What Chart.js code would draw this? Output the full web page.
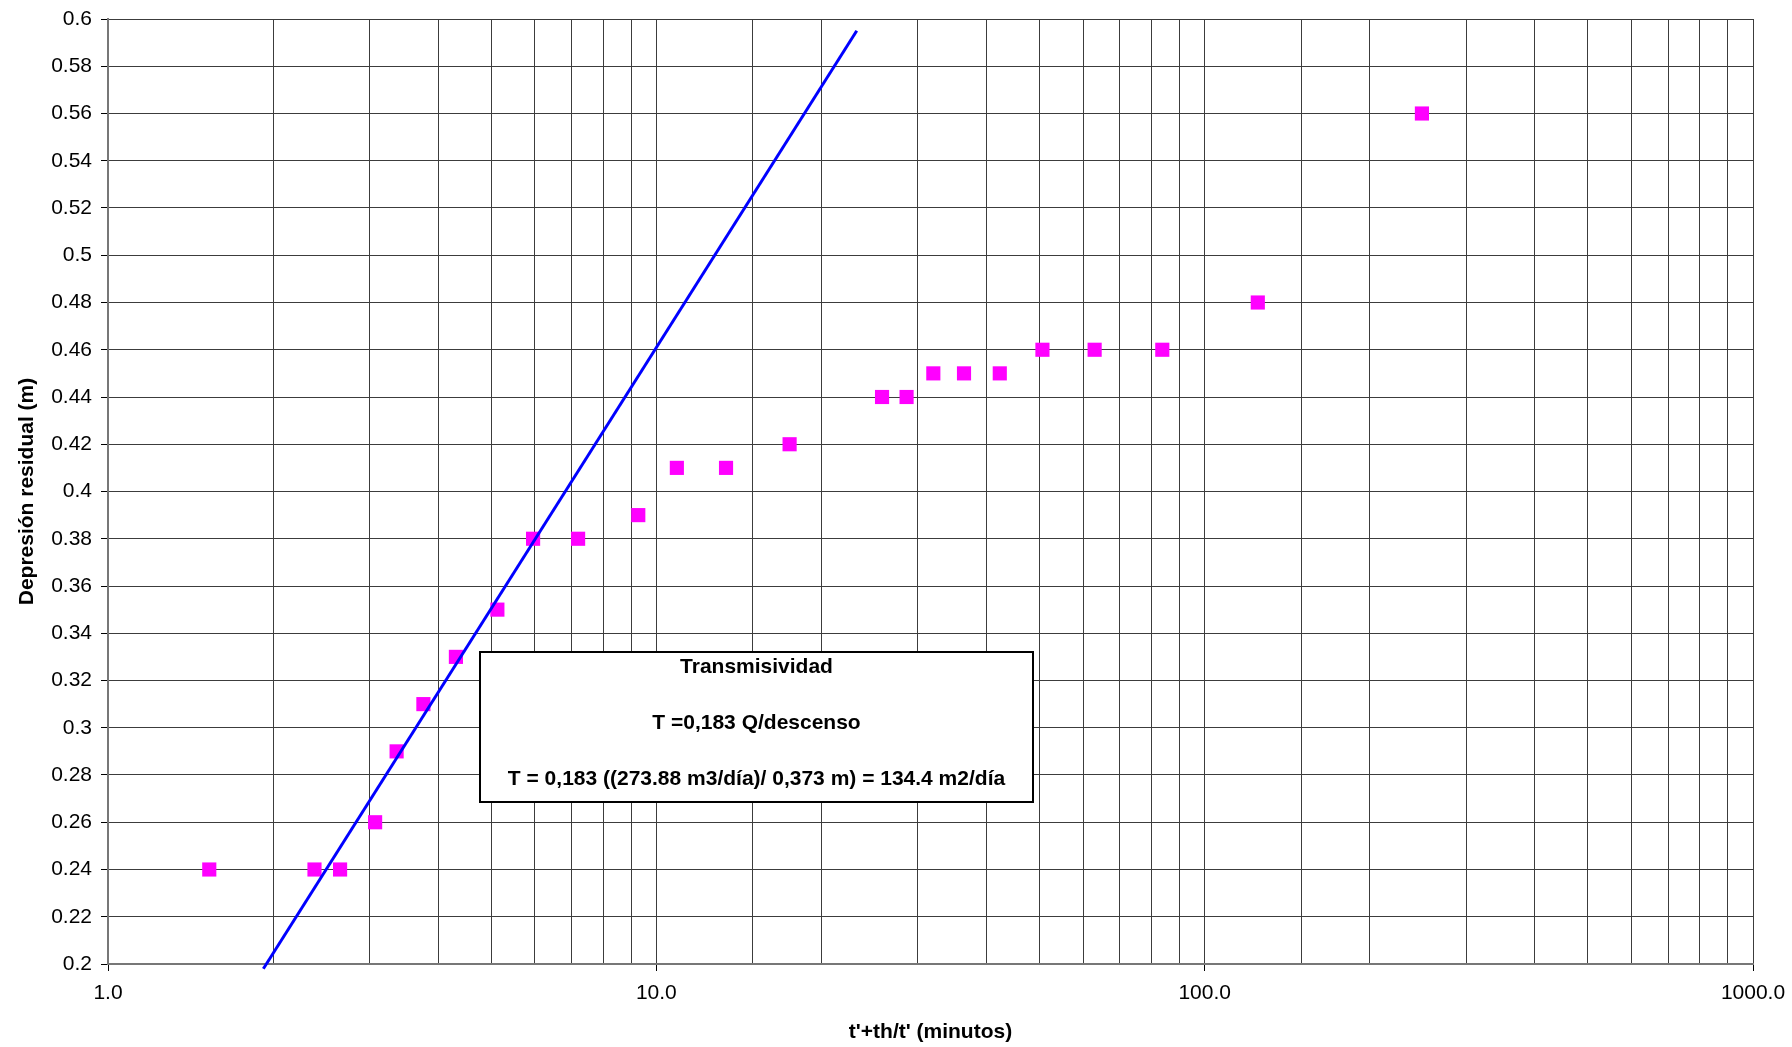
<!DOCTYPE html>
<html>
<head>
<meta charset="utf-8">
<script src="https://cdn.jsdelivr.net/npm/chart.js@4.4.1/dist/chart.umd.min.js"></script>
<style>
  html, body { margin: 0; padding: 0; background: #ffffff; }
  #wrap { width: 1792px; height: 1047px; position: relative; }
</style>
</head>
<body>
<div id="wrap"><canvas id="c" width="1792" height="1047"></canvas></div>
<script>
// ---- data ----
const tValues = [1.53, 2.38, 2.65, 3.07, 3.36, 3.76, 4.31, 5.13, 5.96, 7.2, 9.27, 10.9, 13.4, 17.5, 25.8, 28.6, 32.0, 36.4, 42.3, 50.6, 63.0, 83.7, 125, 249];
const drawdown = [0.24, 0.24, 0.24, 0.26, 0.29, 0.31, 0.33, 0.35, 0.38, 0.38, 0.39, 0.41, 0.41, 0.42, 0.44, 0.44, 0.45, 0.45, 0.45, 0.46, 0.46, 0.46, 0.48, 0.56];
const fitX = [1.92, 23.2];
const fitY = [0.198, 0.595];
const xMajorTicks = [1, 10, 100, 1000];
const yMin = 0.2, yMax = 0.6, yStep = 0.02;
const xTitle = "t'+th/t' (minutos)";
const yTitle = "Depresión residual (m)";
const boxLines = ["Transmisividad", "T =0,183 Q/descenso", "T = 0,183 ((273.88 m3/día)/ 0,373 m) = 134.4 m2/día"];

const FONT = "'Liberation Sans', Arial, sans-serif";

const isMajor = v => xMajorTicks.some(m => Math.abs(v - m) < 1e-9);

const boxPlugin = {
  id: 'textBox',
  afterDatasetsDraw(chart) {
    const ctx = chart.ctx;
    const x0 = 480, y0 = 652, w = 553, h = 150;
    ctx.save();
    ctx.fillStyle = '#ffffff';
    ctx.fillRect(x0, y0, w, h);
    ctx.lineWidth = 2;
    ctx.strokeStyle = '#000000';
    ctx.strokeRect(x0, y0, w, h);
    ctx.fillStyle = '#000000';
    ctx.font = "bold 21px " + FONT;
    ctx.textAlign = 'center';
    ctx.textBaseline = 'middle';
    const cx = x0 + w / 2;
    const ys = [667, 723, 779];
    boxLines.forEach((t, i) => ctx.fillText(t, cx, ys[i]));
    ctx.restore();
  }
};

new Chart(document.getElementById('c'), {
  type: 'scatter',
  data: {
    datasets: [
      {
        label: 'Ajuste',
        data: fitX.map((x, i) => ({ x: x, y: fitY[i] })),
        showLine: true,
        borderColor: '#0000FF',
        backgroundColor: '#0000FF',
        borderWidth: 3,
        pointRadius: 0,
        clip: false
      },
      {
        label: 'Depresión residual',
        data: tValues.map((x, i) => ({ x: x, y: drawdown[i] })),
        pointStyle: 'rect',
        pointRadius: 10,
        pointHoverRadius: 10,
        backgroundColor: '#FF00FF',
        borderColor: '#FF00FF',
        borderWidth: 0
      }
    ]
  },
  options: {
    responsive: false,
    animation: false,
    devicePixelRatio: 1,
    layout: { padding: { left: 0, top: 19, right: 39, bottom: 0 } },
    plugins: {
      legend: { display: false },
      tooltip: { enabled: false },
      title: { display: false }
    },
    scales: {
      x: {
        type: 'logarithmic',
        min: 1,
        max: 1000,
        afterFit(scale) { scale.height = 83; scale.paddingRight = 0; scale.paddingLeft = 0; },
        border: { color: '#777777', width: 2 },
        grid: {
          color: '#3c3c3c',
          lineWidth: 1,
          tickLength: 7,
          tickColor: c => (c.tick && isMajor(c.tick.value)) ? '#000000' : 'rgba(0,0,0,0)'
        },
        ticks: {
          autoSkip: false,
          maxRotation: 0,
          padding: 10,
          color: '#000000',
          font: { family: FONT, size: 21 },
          callback: v => isMajor(v) ? Number(v).toFixed(1) : ''
        },
        title: {
          display: true,
          text: xTitle,
          color: '#000000',
          font: { family: FONT, size: 21, weight: 'bold' },
          padding: { top: 0, bottom: 2 }
        }
      },
      y: {
        type: 'linear',
        min: yMin,
        max: yMax,
        afterFit(scale) { scale.width = 108; scale.paddingTop = 0; scale.paddingBottom = 0; },
        border: { color: '#777777', width: 2 },
        grid: {
          color: '#3c3c3c',
          lineWidth: 1,
          tickLength: 7,
          tickColor: '#000000'
        },
        ticks: {
          stepSize: yStep,
          padding: 9,
          color: '#000000',
          font: { family: FONT, size: 21 },
          callback: v => String(parseFloat(Number(v).toFixed(2)))
        },
        title: {
          display: true,
          text: yTitle,
          color: '#000000',
          font: { family: FONT, size: 21, weight: 'bold' },
          padding: { top: 15, bottom: 0 }
        }
      }
    }
  },
  plugins: [boxPlugin]
});
</script>
</body>
</html>
